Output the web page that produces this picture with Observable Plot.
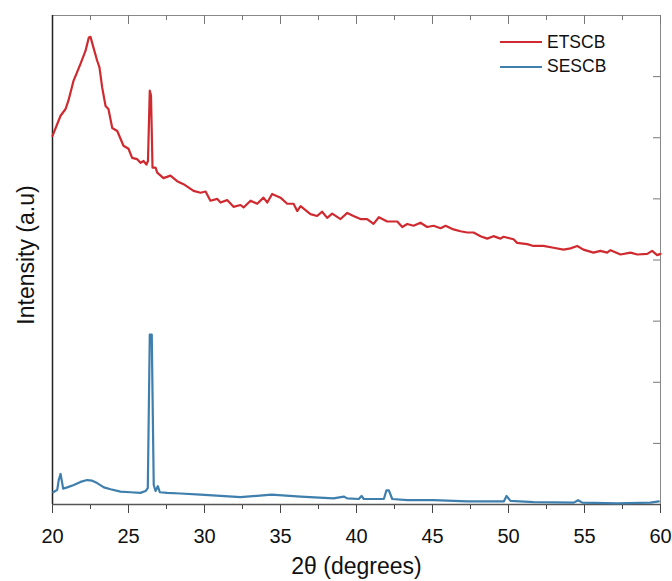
<!DOCTYPE html>
<html><head><meta charset="utf-8">
<script src="https://cdn.jsdelivr.net/npm/d3@7"></script>
<script src="https://cdn.jsdelivr.net/npm/@observablehq/plot@0.6"></script>
<style>
body{margin:0;background:#fff}
#wrap{position:relative;width:672px;height:581px;font-family:"Liberation Sans",Arial,sans-serif}
.leg{position:absolute;left:500px;height:20px;display:flex;align-items:center;font-size:17.5px;color:#111}
.leg .sw{display:inline-block;width:42px;height:2px;margin-right:5px}
</style></head>
<body><div id="wrap"></div>
<script>
const xMajor = [20,25,30,35,40,45,50,55,60];
const xMinor = [22.5,27.5,32.5,37.5,42.5,47.5,52.5,57.5];
const yTicks = [100,200,300,400,500,600,700];
const seriesNames = ["ETSCB","SESCB"];
const seriesColors = ["#cf2a30","#3f7fae"];

const etscbX = [20.0,20.53,20.86,21.05,21.38,21.58,21.84,22.17,22.39,22.5,22.7,22.94,23.09,23.27,23.49,23.68,23.93,24.26,24.67,25.0,25.24,25.57,25.79,25.99,26.18,26.28,26.4,26.48,26.58,26.78,26.89,27.3,27.76,28.2,28.62,29.28,29.74,30.07,30.39,30.84,31.05,31.49,31.91,32.37,32.57,33.03,33.47,33.88,34.13,34.45,35.0,35.44,35.86,36.1,36.32,36.97,37.41,37.74,38.07,38.4,38.95,39.39,39.8,40.26,40.7,41.12,41.47,42.02,42.68,43.01,43.34,43.75,44.21,44.65,45.07,45.53,45.86,46.38,46.84,47.28,47.7,48.16,48.6,49.01,49.47,49.67,50.33,50.57,51.23,51.64,52.3,52.96,53.62,54.08,54.52,54.93,55.59,56.05,56.49,56.71,57.37,58.03,58.47,59.13,59.45,59.78,60.0];
const etscbY = [603,636,647,661,693,705,721,742,764,765,747,726,715,682,652,647,616,611,587,582,567,565,559,562,556,562,677,669,551,551,543,534,538,529,524,513,510,512,497,500,494,498,487,490,486,497,492,502,494,508,502,492,492,480,488,475,472,479,469,476,467,477,472,467,467,459,470,463,463,454,459,456,461,454,456,452,456,450,447,445,445,439,435,439,435,438,434,428,426,423,423,420,417,419,423,417,412,415,412,416,409,412,409,410,415,408,410];

const sescbX = [20.05,20.31,20.41,20.53,20.64,20.7,20.97,21.4,21.84,22.28,22.61,22.94,23.38,23.82,24.47,25.13,25.79,26.12,26.27,26.4,26.53,26.66,26.78,26.93,27.06,27.55,28.42,29.74,31.05,32.37,34.41,36.32,38.49,39.16,39.39,40.15,40.33,40.48,41.8,41.97,42.13,42.35,43.34,45.09,47.28,49.69,49.87,50.13,51.66,54.3,54.58,54.85,57.15,59.34,59.89];
const sescbY = [20,24,40,50,35,26,28,32,37,40,39,35,28,25,21,20,19,22,27,278,278,32,22,30,20,19,18,16,14,12,16,13,10,13,10,9,14,9,9,23,23,9,7,7,5,5,14,6,4,3,7,3,2,3,5];

const etscb = etscbX.map((x,i)=>({x, y: etscbY[i], s: seriesNames[0]}));
const sescb = sescbX.map((x,i)=>({x, y: sescbY[i], s: seriesNames[1]}));

const font = '"Liberation Sans", Arial, sans-serif';
const innerH = 581 - 15 - 77, innerW = 672 - 52 - 12;

const chart = Plot.plot({
  width: 672, height: 581,
  marginLeft: 52, marginRight: 12, marginTop: 15, marginBottom: 77,
  style: {fontFamily: font, background: "#fff", overflow: "visible"},
  x: {domain: [20, 60]},
  y: {domain: [0, 800]},
  marks: [
    Plot.frame({stroke: "#888", strokeWidth: 1}),
    Plot.axisX(xMajor, {anchor: "bottom", tickSize: 9, tickPadding: 15, fontSize: 20, stroke: "#444", fill: "#111", label: null}),
    Plot.axisX(xMinor, {anchor: "bottom", tickSize: 5, tickFormat: () => "", stroke: "#444", label: null}),
    Plot.axisY({ticks: [], label: null}),
    Plot.tickX(xMajor, {x: d => d, insetBottom: innerH - 9, stroke: "#777"}),
    Plot.tickX(xMinor, {x: d => d, insetBottom: innerH - 5, stroke: "#777"}),
    Plot.tickY(yTicks, {y: d => d, insetLeft: innerW - 7, stroke: "#777"}),
    Plot.ruleX([20], {stroke: "#222", strokeWidth: 1.5}),
    Plot.ruleY([0], {stroke: "#555", strokeWidth: 1.5}),
    Plot.line(sescb, {x: "x", y: "y", stroke: seriesColors[1], strokeWidth: 2.2}),
    Plot.line(etscb, {x: "x", y: "y", stroke: seriesColors[0], strokeWidth: 2.2}),
    Plot.text(["2θ (degrees)"], {text: d => d, frameAnchor: "bottom", lineAnchor: "middle", dy: 62, fontSize: 23, fill: "#111"}),
    Plot.text(["Intensity (a.u)"], {text: d => d, frameAnchor: "left", textAnchor: "middle", lineAnchor: "middle", dx: -26, dy: -5, rotate: -90, fontSize: 23, fill: "#111"})
  ]
});
const wrap = document.getElementById("wrap");
wrap.appendChild(chart);
seriesNames.forEach((name, i) => {
  const d = document.createElement("div");
  d.className = "leg";
  d.style.top = (32 + i * 24.5) + "px";
  d.innerHTML = `<span class="sw" style="background:${seriesColors[i]}"></span><span>${name}</span>`;
  wrap.appendChild(d);
});
</script>
</body></html>
